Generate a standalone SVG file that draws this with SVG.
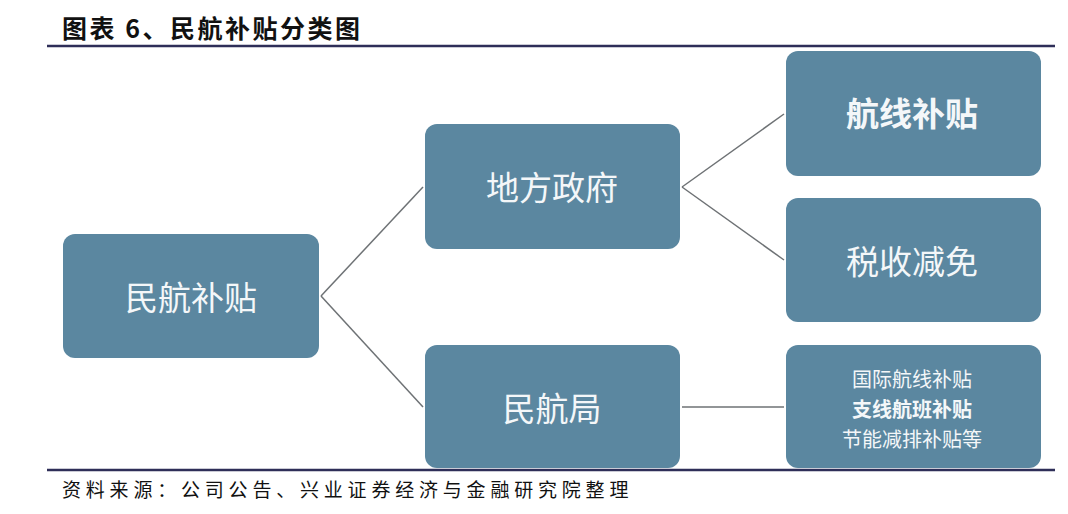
<svg xmlns="http://www.w3.org/2000/svg" width="1068" height="514" viewBox="0 0 1068 514">
<style>
.box{fill:#5b87a0;}
.t{font-family:"Noto Sans CJK SC","Noto Sans",sans-serif;fill:#f4f7f9;text-anchor:middle;dominant-baseline:central;}
.big{font-size:33px;}
.sm{font-size:20px;}
.b{font-weight:bold;}
.con line{stroke:#6e7275;stroke-width:1.5;fill:none;}
.rule{stroke:#2e2e58;stroke-width:2.5;}
</style>
<rect width="1068" height="514" fill="#ffffff"/>
<text x="62" y="38" font-family="'Noto Sans CJK SC',sans-serif" font-size="25" font-weight="bold" fill="#111" letter-spacing="2.5">图表 6、民航补贴分类图</text>
<line class="rule" x1="47" y1="46" x2="1055" y2="46"/>
<g class="con">
<line x1="321" y1="296" x2="423" y2="187"/>
<line x1="321" y1="296" x2="423" y2="407"/>
<line x1="682" y1="187" x2="784" y2="114"/>
<line x1="682" y1="187" x2="784" y2="260"/>
<line x1="682" y1="407" x2="784" y2="407"/>
</g>
<g id="n-root"><rect class="box" x="63" y="234" width="256" height="124" rx="12"/><text class="t big" x="191" y="296">民航补贴</text></g>
<g id="n-local"><rect class="box" x="425" y="124" width="255" height="125" rx="12"/><text class="t big" x="552" y="186">地方政府</text></g>
<g id="n-caac"><rect class="box" x="425" y="345" width="255" height="123" rx="12"/><text class="t big" x="552" y="407">民航局</text></g>
<g id="n-route"><rect class="box" x="786" y="51" width="255" height="125" rx="12"/><text class="t big b" x="912" y="112">航线补贴</text></g>
<g id="n-tax"><rect class="box" x="786" y="198" width="255" height="124" rx="12"/><text class="t big" x="912" y="260">税收减免</text></g>
<g id="n-caacsub"><rect class="box" x="786" y="345" width="255" height="123" rx="12"/>
<text class="t sm" x="912" y="378">国际航线补贴</text>
<text class="t sm b" x="912" y="408">支线航班补贴</text>
<text class="t sm" x="912" y="438">节能减排补贴等</text></g>
<line class="rule" x1="47" y1="470" x2="1055" y2="470"/>
<text x="62" y="497" font-family="'Noto Sans CJK SC',sans-serif" font-size="19" fill="#111" letter-spacing="4.8">资料来源：公司公告、兴业证券经济与金融研究院整理</text>
</svg>
